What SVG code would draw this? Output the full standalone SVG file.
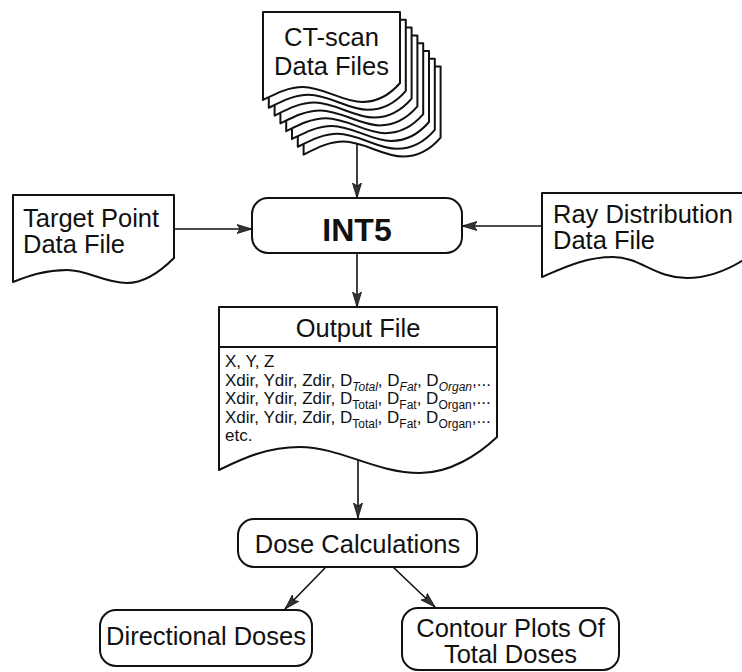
<svg xmlns="http://www.w3.org/2000/svg" width="742" height="672" viewBox="0 0 742 672">
<defs>
<style>
.sh{fill:#fff;stroke:#111;stroke-width:2;stroke-linejoin:round}
.t{font-family:"Liberation Sans",Arial,sans-serif;font-size:25.5px;fill:#111}
.s{font-family:"Liberation Sans",Arial,sans-serif;font-size:17px;fill:#111}
.c{stroke:#111;stroke-width:1.6;fill:none}
</style>
<marker id="ah" markerWidth="16" markerHeight="10" refX="15" refY="5" orient="auto" markerUnits="userSpaceOnUse">
<path d="M0,0.5 L15,5 L0,9.5 L3,5 Z" fill="#333" stroke="#111" stroke-width="0.8"/>
</marker>
<path id="page" d="M0,0 H137 V71 C125,85 112,90 99,90 C80,90 60,75 40,75 C25,75 12,82 0,88 Z"/>
</defs>
<rect width="742" height="672" fill="#fff"/>

<g id="connectors">
<line class="c" x1="357" y1="144" x2="357" y2="198" marker-end="url(#ah)"/>
<line class="c" x1="174" y1="229" x2="252" y2="229" marker-end="url(#ah)"/>
<line class="c" x1="542" y1="226" x2="462" y2="226" marker-end="url(#ah)"/>
<line class="c" x1="357" y1="253" x2="357" y2="307" marker-end="url(#ah)"/>
<line class="c" x1="358" y1="460" x2="358" y2="518" marker-end="url(#ah)"/>
<line class="c" x1="325" y1="568" x2="285" y2="609" marker-end="url(#ah)"/>
<line class="c" x1="393" y1="567" x2="435" y2="607" marker-end="url(#ah)"/>
</g>

<g id="ct-scan">
<use href="#page" class="sh" transform="translate(303.6,66.6)"/>
<use href="#page" class="sh" transform="translate(297.8,58.8)"/>
<use href="#page" class="sh" transform="translate(292,51)"/>
<use href="#page" class="sh" transform="translate(286.2,43.2)"/>
<use href="#page" class="sh" transform="translate(280.4,35.4)"/>
<use href="#page" class="sh" transform="translate(274.6,27.6)"/>
<use href="#page" class="sh" transform="translate(268.8,19.8)"/>
<use href="#page" class="sh" transform="translate(263,12)"/>
<text class="t" x="331.5" y="45.5" text-anchor="middle">CT-scan</text>
<text class="t" x="331.5" y="75" text-anchor="middle">Data Files</text>
</g>

<g id="target-point">
<path class="sh" d="M13,195 H174 V258 C160,272 145,283 127,283 C104,283 88,270 67,270 C45,270 28,276 13,282 Z"/>
<text class="t" x="23" y="227">Target Point</text>
<text class="t" x="23" y="253">Data File</text>
</g>

<g id="ray-distribution">
<path class="sh" d="M542,193 H764 V245 C740,265 715,278 687,278 C655,278 640,257 613,257 C585,257 563,268 542,277 Z"/>
<text class="t" x="553" y="223">Ray Distribution</text>
<text class="t" x="553" y="249">Data File</text>
</g>

<g id="int5">
<rect class="sh" x="252" y="198" width="210" height="55" rx="16"/>
<text class="t" x="357" y="241" text-anchor="middle" font-weight="bold" style="font-size:32px">INT5</text>
</g>

<g id="output-file">
<path class="sh" d="M219,307 H497 V437 C478,455 450,473 420,473 C375,473 340,447 300,447 C265,447 240,460 219,470 Z"/>
<line class="c" x1="219" y1="347" x2="497" y2="347" style="stroke-width:2"/>
<text class="t" x="358" y="337" text-anchor="middle">Output File</text>
<text class="s" x="225" y="367">X, Y, Z</text>
<text class="s" x="225" y="385.5">Xdir, Ydir, Zdir, D<tspan dy="5" font-size="12" font-style="italic">Total</tspan><tspan dy="-5">, D</tspan><tspan dy="5" font-size="12" font-style="italic">Fat</tspan><tspan dy="-5">, D</tspan><tspan dy="5" font-size="12" font-style="italic">Organ</tspan><tspan dy="-5">,...</tspan></text>
<text class="s" x="225" y="404">Xdir, Ydir, Zdir, D<tspan dy="5" font-size="12">Total</tspan><tspan dy="-5">, D</tspan><tspan dy="5" font-size="12">Fat</tspan><tspan dy="-5">, D</tspan><tspan dy="5" font-size="12">Organ</tspan><tspan dy="-5">,...</tspan></text>
<text class="s" x="225" y="422.5">Xdir, Ydir, Zdir, D<tspan dy="5" font-size="12">Total</tspan><tspan dy="-5">, D</tspan><tspan dy="5" font-size="12">Fat</tspan><tspan dy="-5">, D</tspan><tspan dy="5" font-size="12">Organ</tspan><tspan dy="-5">,...</tspan></text>
<text class="s" x="225" y="441">etc.</text>
</g>

<g id="dose-calculations">
<rect class="sh" x="238" y="519" width="239" height="48" rx="16"/>
<text class="t" x="357.5" y="553" text-anchor="middle">Dose Calculations</text>
</g>

<g id="directional-doses">
<rect class="sh" x="100" y="610" width="212" height="56" rx="16"/>
<text class="t" x="206" y="645" text-anchor="middle">Directional Doses</text>
</g>

<g id="contour-plots">
<rect class="sh" x="402" y="608" width="217" height="62" rx="16"/>
<text class="t" x="510.5" y="637" text-anchor="middle">Contour Plots Of</text>
<text class="t" x="510.5" y="663" text-anchor="middle">Total Doses</text>
</g>
</svg>
